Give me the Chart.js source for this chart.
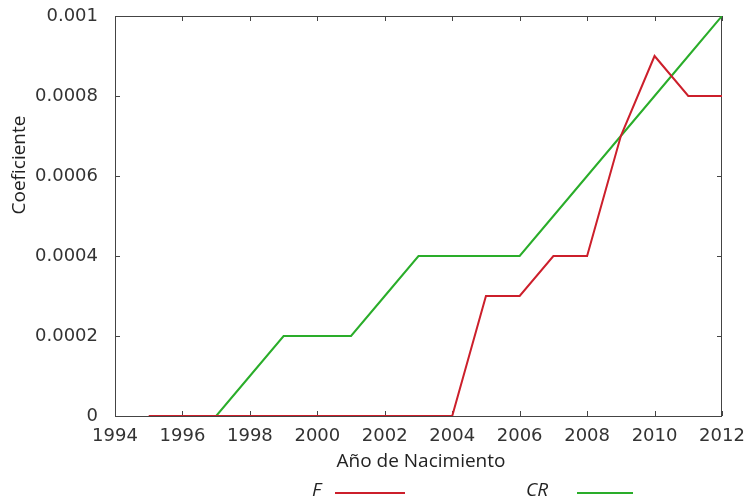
<!DOCTYPE html>
<html>
<head>
<meta charset="utf-8">
<script src="https://cdn.jsdelivr.net/npm/chart.js@4"></script>
<style>
  html, body { margin: 0; padding: 0; background: #fff; }
  #wrap { width: 746px; height: 504px; }
</style>
</head>
<body>
<div id="wrap"><canvas id="chart"></canvas></div>
<script>
// datos
var years = [1995, 1996, 1997, 1998, 1999, 2000, 2001, 2002, 2003, 2004, 2005, 2006, 2007, 2008, 2009, 2010, 2011, 2012];
var fValues = [0, 0, 0, 0, 0, 0, 0, 0, 0, 0, 0.0003, 0.0003, 0.0004, 0.0004, 0.0007, 0.0009, 0.0008, 0.0008];
var crYears = [1997, 1998, 1999, 2000, 2001, 2002, 2003, 2004, 2005, 2006, 2007, 2008, 2009, 2010, 2011, 2012];
var crValues = [0, 0.0001, 0.0002, 0.0002, 0.0002, 0.0003, 0.0004, 0.0004, 0.0004, 0.0004, 0.0005, 0.0006, 0.0007, 0.0008, 0.0009, 0.001];
var xTicks = [1994, 1996, 1998, 2000, 2002, 2004, 2006, 2008, 2010, 2012];
var yTicks = [0, 0.0002, 0.0004, 0.0006, 0.0008, 0.001];

var redColor = '#cc1f2b';
var greenColor = '#2aad2a';

function toPoints(xs, ys) {
    return xs.map(function (x, i) { return { x: x, y: ys[i] }; });
}

// marco, marcas hacia dentro, titulos y leyenda
var framePlugin = {
    id: 'frame',
    beforeDatasetsDraw: function (chart) {
        var ctx = chart.ctx;
        var a = chart.chartArea;
        var xs = chart.scales.x;
        var ys = chart.scales.y;
        ctx.save();
        ctx.strokeStyle = '#444';
        ctx.lineWidth = 1;
        ctx.strokeRect(a.left + 0.5, a.top + 0.5, a.right - a.left - 1, a.bottom - a.top);
        ctx.beginPath();
        xTicks.forEach(function (t) {
            var px = Math.round(xs.getPixelForValue(t)) + 0.5;
            ctx.moveTo(px, a.bottom); ctx.lineTo(px, a.bottom - 5);
            ctx.moveTo(px, a.top); ctx.lineTo(px, a.top + 5);
        });
        yTicks.forEach(function (t) {
            var py = Math.round(ys.getPixelForValue(t)) + 0.5;
            ctx.moveTo(a.left, py); ctx.lineTo(a.left + 5, py);
            ctx.moveTo(a.right, py); ctx.lineTo(a.right - 5, py);
        });
        ctx.stroke();
        ctx.restore();
    },
    afterDraw: function (chart) {
        var ctx = chart.ctx;
        ctx.save();
        ctx.fillStyle = '#222';
        ctx.font = '19px "Open Sans"';
        ctx.textAlign = 'center';
        ctx.textBaseline = 'middle';
        ctx.fillText('Año de Nacimiento', 421, 462);
        ctx.translate(20, 165);
        ctx.rotate(-Math.PI / 2);
        ctx.fillText('Coeficiente', 0, 0);
        ctx.restore();

        // leyenda
        ctx.save();
        ctx.font = 'italic 19px "Open Sans"';
        ctx.fillStyle = '#222';
        ctx.textBaseline = 'middle';
        ctx.textAlign = 'left';
        ctx.fillText('F', 312, 491);
        ctx.fillText('CR', 526, 491);
        ctx.lineWidth = 2;
        ctx.strokeStyle = redColor;
        ctx.beginPath(); ctx.moveTo(335, 493); ctx.lineTo(405, 493); ctx.stroke();
        ctx.strokeStyle = greenColor;
        ctx.beginPath(); ctx.moveTo(577, 493); ctx.lineTo(633, 493); ctx.stroke();
        ctx.restore();
    }
};

var ctx = document.getElementById('chart').getContext('2d');
var myChart = new Chart(ctx, {
    type: 'line',
    data: {
        datasets: [{
            label: 'F',
            data: toPoints(years, fValues),
            borderColor: redColor,
            borderWidth: 2,
            pointRadius: 0,
            tension: 0,
            fill: false
        }, {
            label: 'CR',
            data: toPoints(crYears, crValues),
            borderColor: greenColor,
            borderWidth: 2,
            pointRadius: 0,
            tension: 0,
            fill: false
        }]
    },
    options: {
        responsive: true,
        maintainAspectRatio: false,
        animation: false,
        layout: { padding: { left: 0, right: 24, top: 16, bottom: 0 } },
        plugins: {
            legend: { display: false },
            tooltip: { enabled: false }
        },
        scales: {
            x: {
                type: 'linear',
                min: 1994,
                max: 2012,
                afterFit: function (scale) {
                    scale.height = 88;
                    scale.paddingLeft = 0;
                    scale.paddingRight = 0;
                },
                afterBuildTicks: function (scale) {
                    scale.ticks = xTicks.map(function (v) { return { value: v }; });
                },
                grid: { display: false, drawTicks: false },
                border: { display: false },
                ticks: {
                    color: '#333',
                    font: { family: 'DejaVu Sans', size: 18 },
                    padding: 10,
                    maxRotation: 0,
                    callback: function (v) { return String(v); }
                }
            },
            y: {
                min: 0,
                max: 0.001,
                afterFit: function (scale) {
                    scale.width = 115;
                    scale.paddingTop = 0;
                    scale.paddingBottom = 0;
                },
                afterBuildTicks: function (scale) {
                    scale.ticks = yTicks.map(function (v) { return { value: v }; });
                },
                grid: { display: false, drawTicks: false },
                border: { display: false },
                ticks: {
                    color: '#333',
                    font: { family: 'DejaVu Sans', size: 18 },
                    padding: 17,
                    callback: function (v) { return v === 0 ? '0' : String(+v.toFixed(4)); }
                }
            }
        }
    },
    plugins: [framePlugin]
});
</script>
</body>
</html>
